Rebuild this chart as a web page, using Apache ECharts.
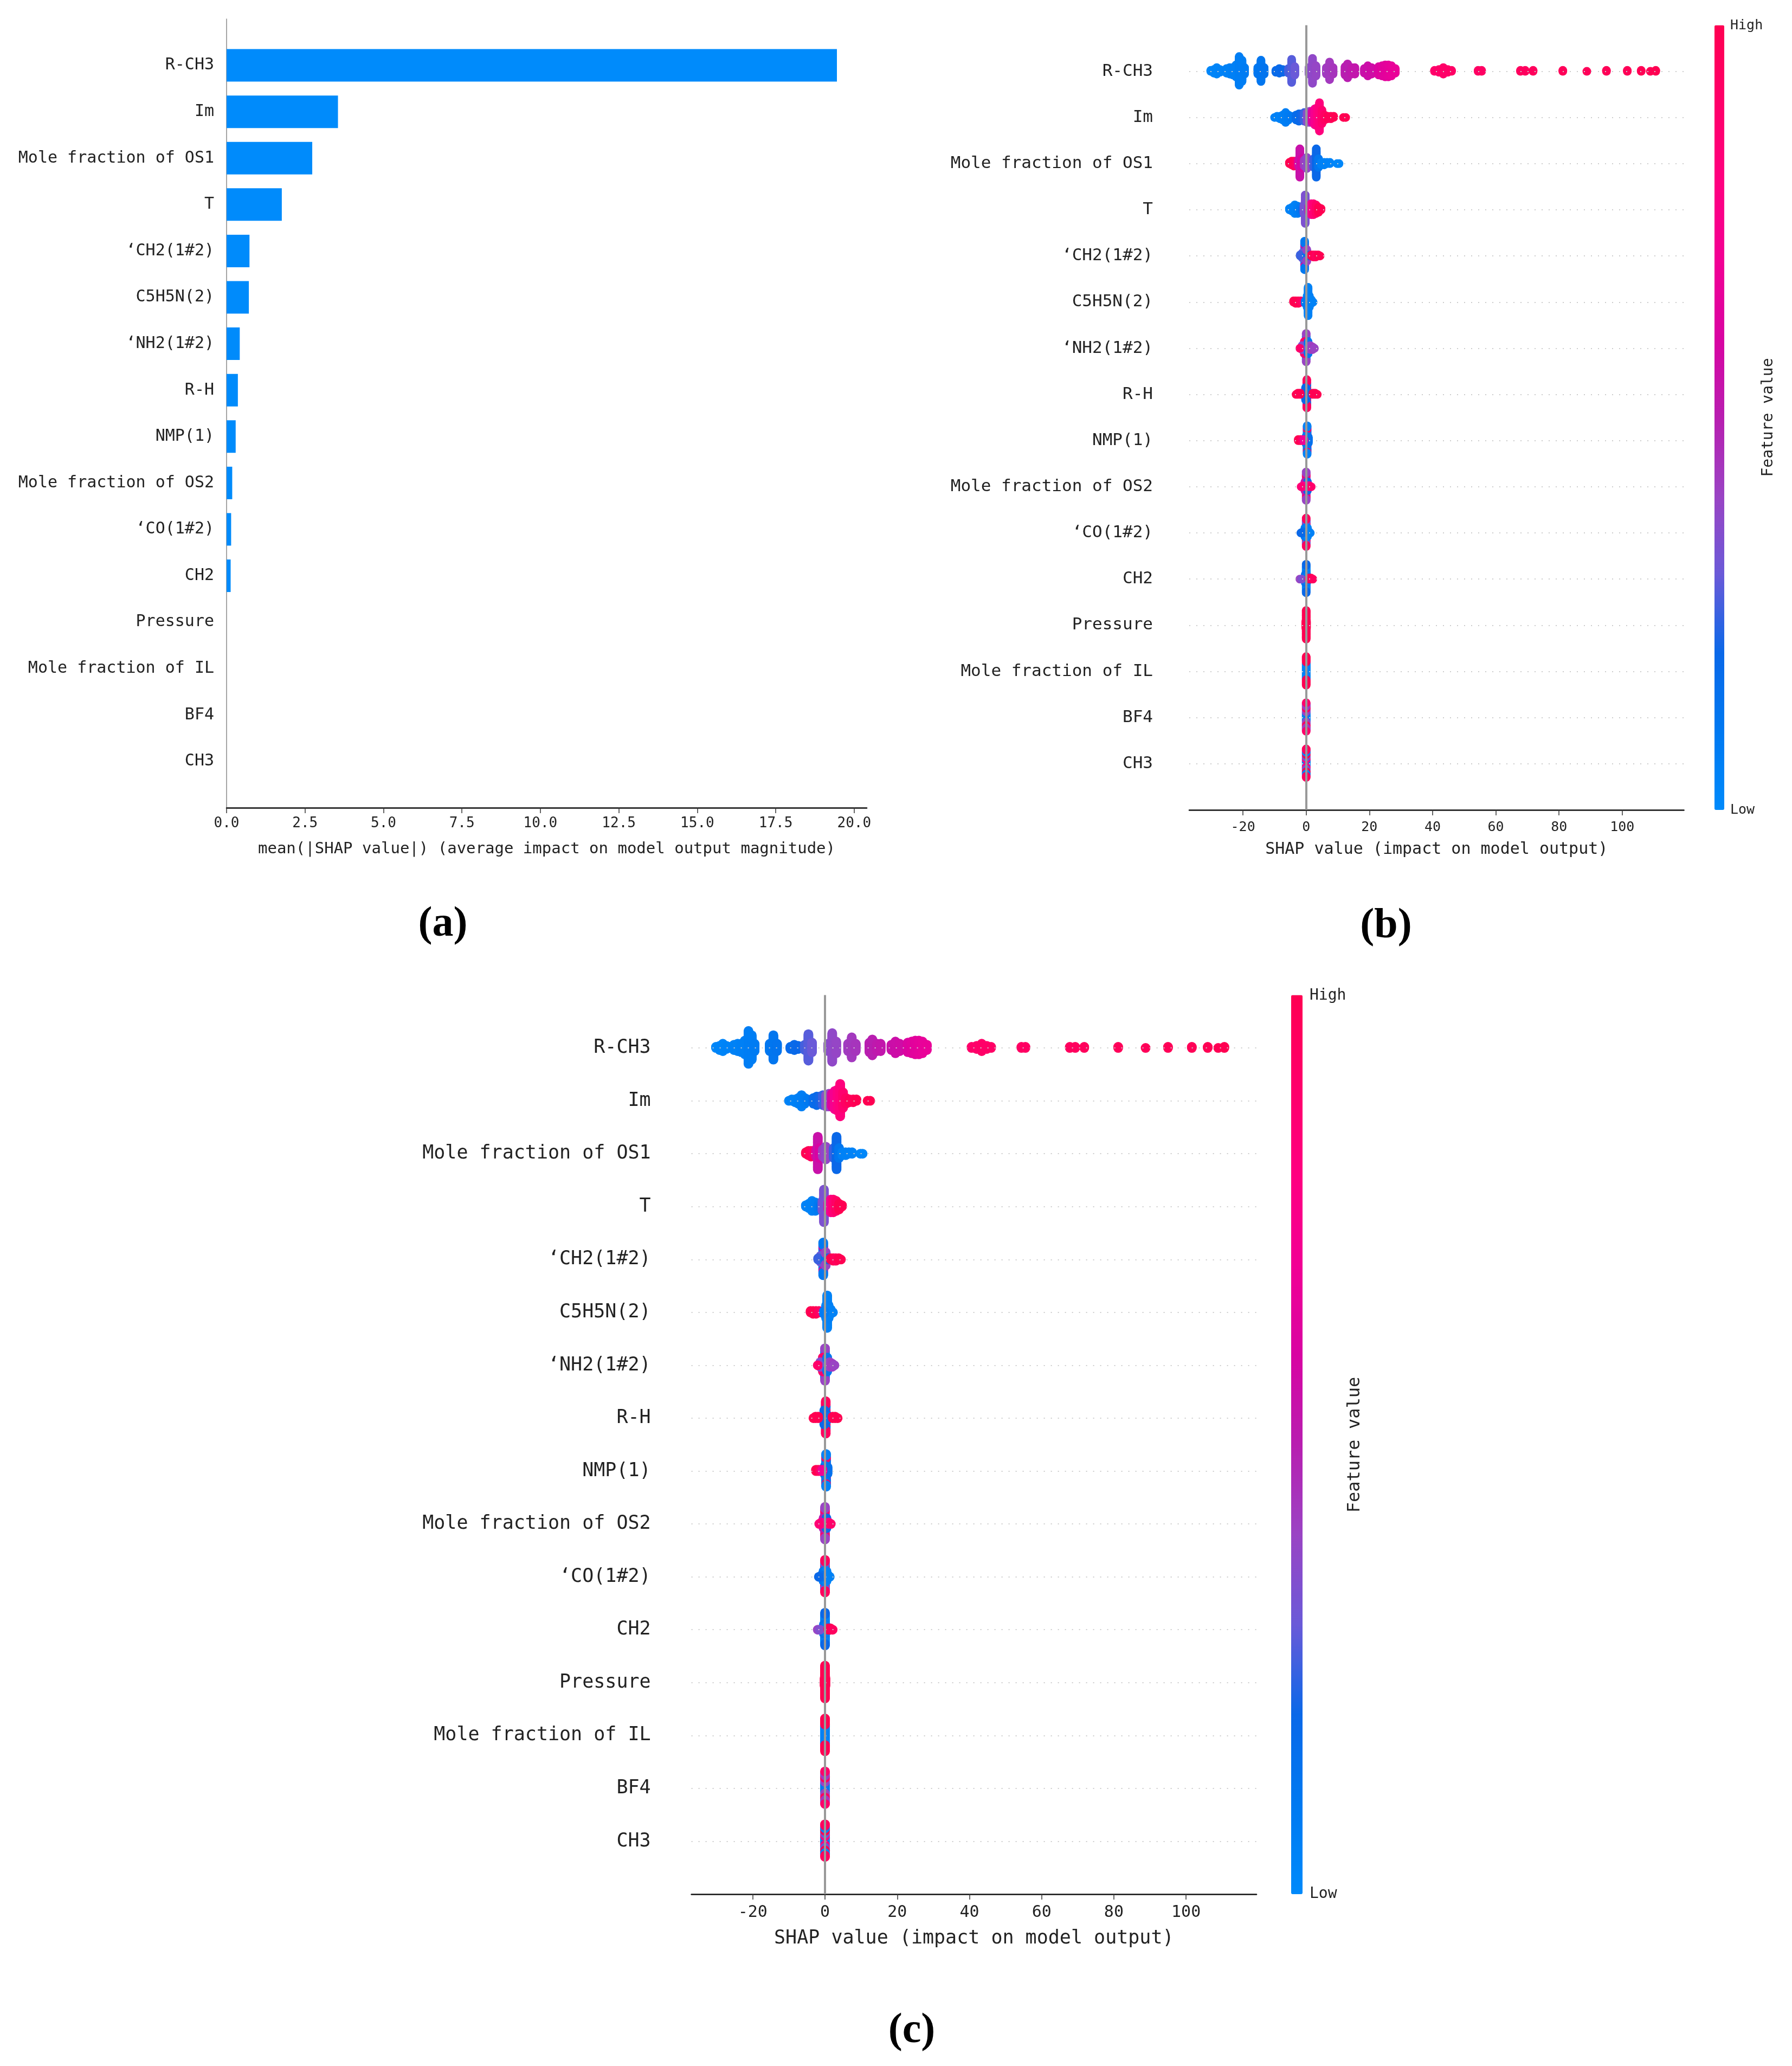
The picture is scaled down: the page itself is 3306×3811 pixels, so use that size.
<!DOCTYPE html>
<html><head><meta charset="utf-8">
<script src="https://cdn.jsdelivr.net/npm/echarts@6/dist/echarts.min.js"></script>
<style>html,body{margin:0;padding:0;background:#fff}#chart{width:3306px;height:3811px}</style>
</head><body><div id="chart"></div>
<script>
// ---------- data ----------
const features = ["R-CH3","Im","Mole fraction of OS1","T","\u2018CH2(1#2)","C5H5N(2)","\u2018NH2(1#2)","R-H","NMP(1)","Mole fraction of OS2","\u2018CO(1#2)","CH2","Pressure","Mole fraction of IL","BF4","CH3"];
const meanAbsShap = [19.45, 3.55, 2.73, 1.76, 0.73, 0.71, 0.42, 0.36, 0.29, 0.18, 0.145, 0.13, 0, 0, 0, 0];
const barTicks = [0, 2.5, 5, 7.5, 10, 12.5, 15, 17.5, 20];
const shapTicks = [-20, 0, 20, 40, 60, 80, 100];

// beeswarm clusters: [SHAP value, normalised feature value (0 low .. 1 high), number of samples]
const swarm_R_CH3 = [[-30.2,0.02,2],[-29.2,0.03,5],[-28.3,0.03,8],[-27.3,0.04,4],[-26.5,0.04,2],
  [-25.2,0.05,6],[-24.2,0.05,8],[-23.2,0.06,9],[-22.2,0.06,14],[-21.2,0.07,32],[-20.3,0.07,24],[-19.5,0.08,8],
  [-15.3,0.11,8],[-14.3,0.12,24],[-13.3,0.13,8],
  [-9.6,0.18,3],[-8.5,0.19,6],[-7.4,0.2,4],
  [-5.6,0.26,6],[-4.6,0.28,26],[-3.6,0.3,10],
  [0.9,0.36,8],[2.0,0.38,28],[3.1,0.39,12],
  [6.4,0.42,8],[7.4,0.43,20],[8.5,0.44,8],
  [12.3,0.5,10],[13.1,0.5,16],[14.4,0.52,8],[15.4,0.53,8],
  [18.4,0.55,6],[19.5,0.56,12],[20.7,0.57,8],
  [22.9,0.61,10],[24.0,0.63,12],[25.0,0.64,14],[26.0,0.65,14],[27.0,0.66,12],[28.2,0.67,6],
  [40.6,0.9,2],[42.0,0.9,4],[43.4,0.91,8],[44.8,0.91,4],[46.0,0.92,2],
  [54.4,0.93,2],[55.5,0.93,2],[67.8,0.95,2],[69.3,0.95,2],[71.8,0.96,2],
  [81.2,0.97,2],[88.8,0.97,1],[95.0,0.98,2],[101.6,0.98,2],[106.0,0.99,2],[108.9,0.99,1],[110.6,1.0,2]];
const swarm_Im = [[-10.0,0.04,1],[-9.2,0.05,2],[-8.3,0.05,3],[-7.4,0.06,5],[-6.5,0.07,9],[-5.6,0.08,5],[-4.8,0.1,2],
  [-3.2,0.17,5],[-2.3,0.19,7],[-1.4,0.21,6],[-0.6,0.25,8],[0.3,0.36,9],[1.1,0.4,10],
  [1.9,0.62,10],[2.7,0.72,14],[3.5,0.78,16],[4.2,0.82,24],[5.0,0.88,12],[5.8,0.93,5],
  [6.8,0.97,3],[7.8,0.97,3],[8.7,1.0,2],[11.8,1.0,1],[12.5,1.0,1]];
const swarm_OS1 = [[-5.3,1.0,2],[-4.6,1.0,4],[-3.9,0.96,5],[-3.2,0.92,4],
  [-2.5,0.62,6],[-2.0,0.55,24],[-1.5,0.6,8],[-0.6,0.42,6],[0.2,0.38,10],[1.0,0.4,5],
  [2.4,0.25,8],[3.2,0.2,24],[3.9,0.12,8],[4.8,0.06,3],[5.7,0.05,3],[6.6,0.05,2],[7.5,0.04,2],[9.8,0.02,1],[10.4,0.02,1]];
const swarm_T = [[-5.3,0.04,2],[-4.5,0.05,4],[-3.6,0.05,8],[-2.7,0.07,7],[-1.8,0.1,5],[-1.2,0.15,3],
  [-0.3,0.34,24],[-0.7,0.33,8],[0.9,0.6,6],[1.6,0.72,10],[2.3,0.85,10],[3.1,0.92,8],[3.9,1.0,5],[4.7,1.0,2]];
const swarm_CH2_12 = [[-0.5,0.08,8],[-0.5,0.35,4],[-0.5,0.12,6],[-0.5,0.55,4],[-0.5,0.1,6],
  [-1.2,0.3,6],[-1.9,0.25,2],[0.2,0.15,8],[0.2,0.4,4],[0.9,0.2,2],
  [1.6,1.0,2],[2.3,1.0,3],[3.0,0.95,3],[3.8,1.0,2],[4.4,1.0,1]];
const swarm_C5H5N = [[-4.0,1.0,2],[-3.3,1.0,3],[-2.5,1.0,3],[-1.7,0.95,2],[-1.0,0.9,1],
  [0.3,0.04,10],[0.6,0.05,24],[1.0,0.06,10],[1.6,0.05,4],[2.2,0.05,1],[-0.3,0.08,3]];
const swarm_NH2_12 = [[0,0.1,6],[0,0.45,4],[0,0.85,2],[0,0.05,6],[0,0.4,4],
  [-0.6,0.08,8],[-0.6,0.9,2],[-1.3,0.35,4],[-2.0,0.9,1],[0.6,0.3,6],[0.6,0.12,4],[1.3,0.4,4],[2.0,0.42,3],[2.6,0.4,1]];
const swarm_RH = [[0.2,0.45,6],[0.2,0.9,6],[0.2,0.15,4],[0.2,0.95,6],
  [-0.2,0.6,6],[-0.2,0.2,4],[0.6,0.2,4],[0.9,0.15,2],
  [-3.2,1.0,1],[-2.6,1.0,2],[-1.9,1.0,2],[2.1,1.0,2],[2.8,1.0,2],[3.5,1.0,1]];
const swarm_NMP = [[0.3,0.08,10],[0.3,0.5,3],[0.3,0.12,6],[0.3,0.9,3],[0.3,0.05,4],
  [0,0.1,8],[0.7,0.15,6],[-2.5,1.0,2],[-1.9,1.0,2],[-1.3,0.92,2],[-0.7,0.7,2]];
const swarm_OS2 = [[0,0.6,6],[0,0.12,6],[0,0.45,4],[0,0.9,4],[0,0.4,4],
  [-0.4,0.5,8],[0.4,0.2,8],[-1.0,0.7,2],[-1.6,0.85,1],[1.0,0.8,2],[1.6,0.9,1]];
const swarm_CO_12 = [[0,0.4,6],[0,0.05,6],[0,0.9,4],[0,0.3,4],[0,0.95,4],
  [-0.4,0.1,8],[0.4,0.05,8],[-1.0,0.15,2],[-1.7,0.2,1],[0.9,0.05,2],[1.3,0.05,1]];
const swarm_CH2 = [[0,0.1,14],[0,0.05,8],[0,0.2,4],[-0.3,0.15,8],[0.3,0.08,6],
  [-2.0,0.4,1],[-1.4,0.35,1],[0.9,1.0,2],[1.5,1.0,2],[2.1,0.95,1]];
const swarm_Pressure = [[0,1.0,30],[-0.1,1.0,8],[0.1,1.0,8]];
const swarm_IL = [[0,0.05,16],[0,1.0,12]];
const swarm_BF4 = [[0,0.1,8],[0,0.4,6],[0,0.95,4],[0,0.42,6],[0,0.9,2]];
const swarm_CH3 = [[0,0.08,6],[0,0.8,4],[0,0.3,4],[0,1.0,4],[0,0.05,4],[0,0.95,4]];
const swarmByFeature = [swarm_R_CH3, swarm_Im, swarm_OS1, swarm_T, swarm_CH2_12, swarm_C5H5N, swarm_NH2_12,
  swarm_RH, swarm_NMP, swarm_OS2, swarm_CO_12, swarm_CH2, swarm_Pressure, swarm_IL, swarm_BF4, swarm_CH3];

// ---------- styling ----------
const colormap = ['#008afb','#0079f1','#0a68e8','#6a5ad8','#9a44c4','#b81eb0','#d804a2','#f20094','#ff0080','#ff006a','#ff0052'];
const MONO = '"DejaVu Sans Mono"';

// beeswarm layout (stack samples that share a SHAP value, like shap's summary plot)
function beeswarm(lists) {
  const pts = [];
  lists.forEach((clusters, row) => {
    const piles = new Map();
    clusters.forEach(([x, fv, n]) => {
      const key = x.toFixed(3);
      if (!piles.has(key)) piles.set(key, {x: x, fvs: []});
      for (let i = 0; i < n; i++) piles.get(key).fvs.push(fv);
    });
    let maxK = 0;
    piles.forEach(p => { maxK = Math.max(maxK, Math.ceil((p.fvs.length - 1) / 2)); });
    const step = maxK > 0 ? 0.32 / maxK : 0;
    piles.forEach(p => p.fvs.forEach((fv, L) => {
      const k = L === 0 ? 0 : (L % 2 ? -1 : 1) * Math.ceil(L / 2);
      pts.push([p.x, row + k * step, fv]);
    }));
  });
  return pts;
}
const swarmPoints = beeswarm(swarmByFeature);
const rowIdx = features.map((_, i) => i);

function shapXAxis(gridIndex, fontSize, nameSize, margin, nameGap) {
  return {
    gridIndex, type: 'value', min: -37, max: 119.5,
    name: 'SHAP value (impact on model output)', nameLocation: 'middle', nameGap,
    nameTextStyle: {fontFamily: MONO, fontSize: nameSize, color: '#222'},
    axisLine: {show: true, onZero: false, lineStyle: {color: '#111', width: 2.5}},
    axisTick: {show: true, length: 10, customValues: shapTicks, lineStyle: {color: '#333', width: 1.5}},
    axisLabel: {customValues: shapTicks, margin, fontFamily: MONO, fontSize, color: '#222'},
    splitLine: {show: false}
  };
}
function shapYAxis(gridIndex, fontSize, margin) {
  return {
    gridIndex, type: 'value', min: -1, max: 16, inverse: true,
    axisLine: {show: false}, axisTick: {show: false}, splitLine: {show: false},
    axisLabel: {customValues: rowIdx, margin, fontFamily: MONO, fontSize, color: '#222',
      formatter: v => features[Math.round(v)] || ''}
  };
}
function guideSeries(axisIndex, zeroWidth) {
  return {
    type: 'scatter', xAxisIndex: axisIndex, yAxisIndex: axisIndex, data: [], silent: true, z: 1,
    markLine: {
      silent: true, symbol: ['none', 'none'], label: {show: false}, animation: false,
      data: rowIdx.map(i => ({yAxis: i, lineStyle: {color: '#cccccc', width: 2, type: [2, 11]}}))
        .concat([{xAxis: 0, lineStyle: {color: '#999999', width: zeroWidth, type: 'solid'}}])
    }
  };
}

const chart = echarts.init(document.getElementById('chart'), null, {renderer: 'canvas'});
chart.setOption({
  animation: false,
  backgroundColor: '#ffffff',
  grid: [
    {left: 418, top: 35, width: 1181, height: 1455},
    {left: 2194, top: 46.4, width: 912.5, height: 1447.6},
    {left: 1275.6, top: 1835.5, width: 1042.4, height: 1658.5}
  ],
  xAxis: [
    {gridIndex: 0, type: 'value', min: 0, max: 20.4,
      name: 'mean(|SHAP value|) (average impact on model output magnitude)', nameLocation: 'middle', nameGap: 62,
      nameTextStyle: {fontFamily: MONO, fontSize: 29, color: '#222'},
      axisLine: {show: true, onZero: false, lineStyle: {color: '#111', width: 2.5}},
      axisTick: {show: true, length: 10, customValues: barTicks, lineStyle: {color: '#333', width: 1.5}},
      axisLabel: {customValues: barTicks, margin: 16, fontFamily: MONO, fontSize: 26, color: '#222', formatter: v => v.toFixed(1)},
      splitLine: {show: false}},
    shapXAxis(1, 25, 30, 20, 58),
    shapXAxis(2, 30, 35, 19, 64)
  ],
  yAxis: [
    {gridIndex: 0, type: 'category', inverse: true, boundaryGap: false,
      data: [' '].concat(features, ['  ']),
      axisLine: {show: true, lineStyle: {color: '#888', width: 1.5}}, axisTick: {show: false},
      axisLabel: {interval: 0, margin: 23, fontFamily: MONO, fontSize: 30, color: '#222'},
      splitLine: {show: false}},
    shapYAxis(1, 31, 67),
    shapYAxis(2, 35, 75)
  ],
  visualMap: [
    {type: 'continuous', seriesIndex: 2, dimension: 2, min: 0, max: 1, calculable: false, hoverLink: false,
      orient: 'vertical', left: 3163, top: 46.4, itemWidth: 18, itemHeight: 1447.6, padding: 0,
      inRange: {color: colormap}},
    {type: 'continuous', seriesIndex: 4, dimension: 2, min: 0, max: 1, calculable: false, hoverLink: false,
      orient: 'vertical', left: 2382, top: 1835.5, itemWidth: 21, itemHeight: 1658.5, padding: 0,
      inRange: {color: colormap}}
  ],
  series: [
    {type: 'bar', xAxisIndex: 0, yAxisIndex: 0, barWidth: 60,
      data: ['-'].concat(meanAbsShap, ['-']), itemStyle: {color: '#008bfb'}},
    guideSeries(1, 4),
    {type: 'scatter', xAxisIndex: 1, yAxisIndex: 1, symbolSize: 16, z: 2, data: swarmPoints,
      itemStyle: {opacity: 1, borderWidth: 0}},
    guideSeries(2, 4),
    {type: 'scatter', xAxisIndex: 2, yAxisIndex: 2, symbolSize: 18, z: 2, data: swarmPoints,
      itemStyle: {opacity: 1, borderWidth: 0}}
  ],
  graphic: [
    {type: 'text', x: 3192, y: 47, style: {text: 'High', font: '25px ' + MONO, fill: '#222', verticalAlign: 'middle'}},
    {type: 'text', x: 3192, y: 1494, style: {text: 'Low', font: '25px ' + MONO, fill: '#222', verticalAlign: 'middle'}},
    {type: 'text', x: 3263, y: 770, rotation: Math.PI / 2, style: {text: 'Feature value', font: '28px ' + MONO, fill: '#222', align: 'center', verticalAlign: 'middle'}},
    {type: 'text', x: 2416, y: 1837, style: {text: 'High', font: '28px ' + MONO, fill: '#222', verticalAlign: 'middle'}},
    {type: 'text', x: 2416, y: 3494, style: {text: 'Low', font: '28px ' + MONO, fill: '#222', verticalAlign: 'middle'}},
    {type: 'text', x: 2500, y: 2665, rotation: Math.PI / 2, style: {text: 'Feature value', font: '32px ' + MONO, fill: '#222', align: 'center', verticalAlign: 'middle'}},
    {type: 'text', x: 817, y: 1706, style: {text: '(a)', font: 'bold 78px "Liberation Serif"', fill: '#000', align: 'center', verticalAlign: 'middle'}},
    {type: 'text', x: 2557, y: 1709, style: {text: '(b)', font: 'bold 78px "Liberation Serif"', fill: '#000', align: 'center', verticalAlign: 'middle'}},
    {type: 'text', x: 1682, y: 3747, style: {text: '(c)', font: 'bold 78px "Liberation Serif"', fill: '#000', align: 'center', verticalAlign: 'middle'}}
  ]
});
</script>
</body></html>
